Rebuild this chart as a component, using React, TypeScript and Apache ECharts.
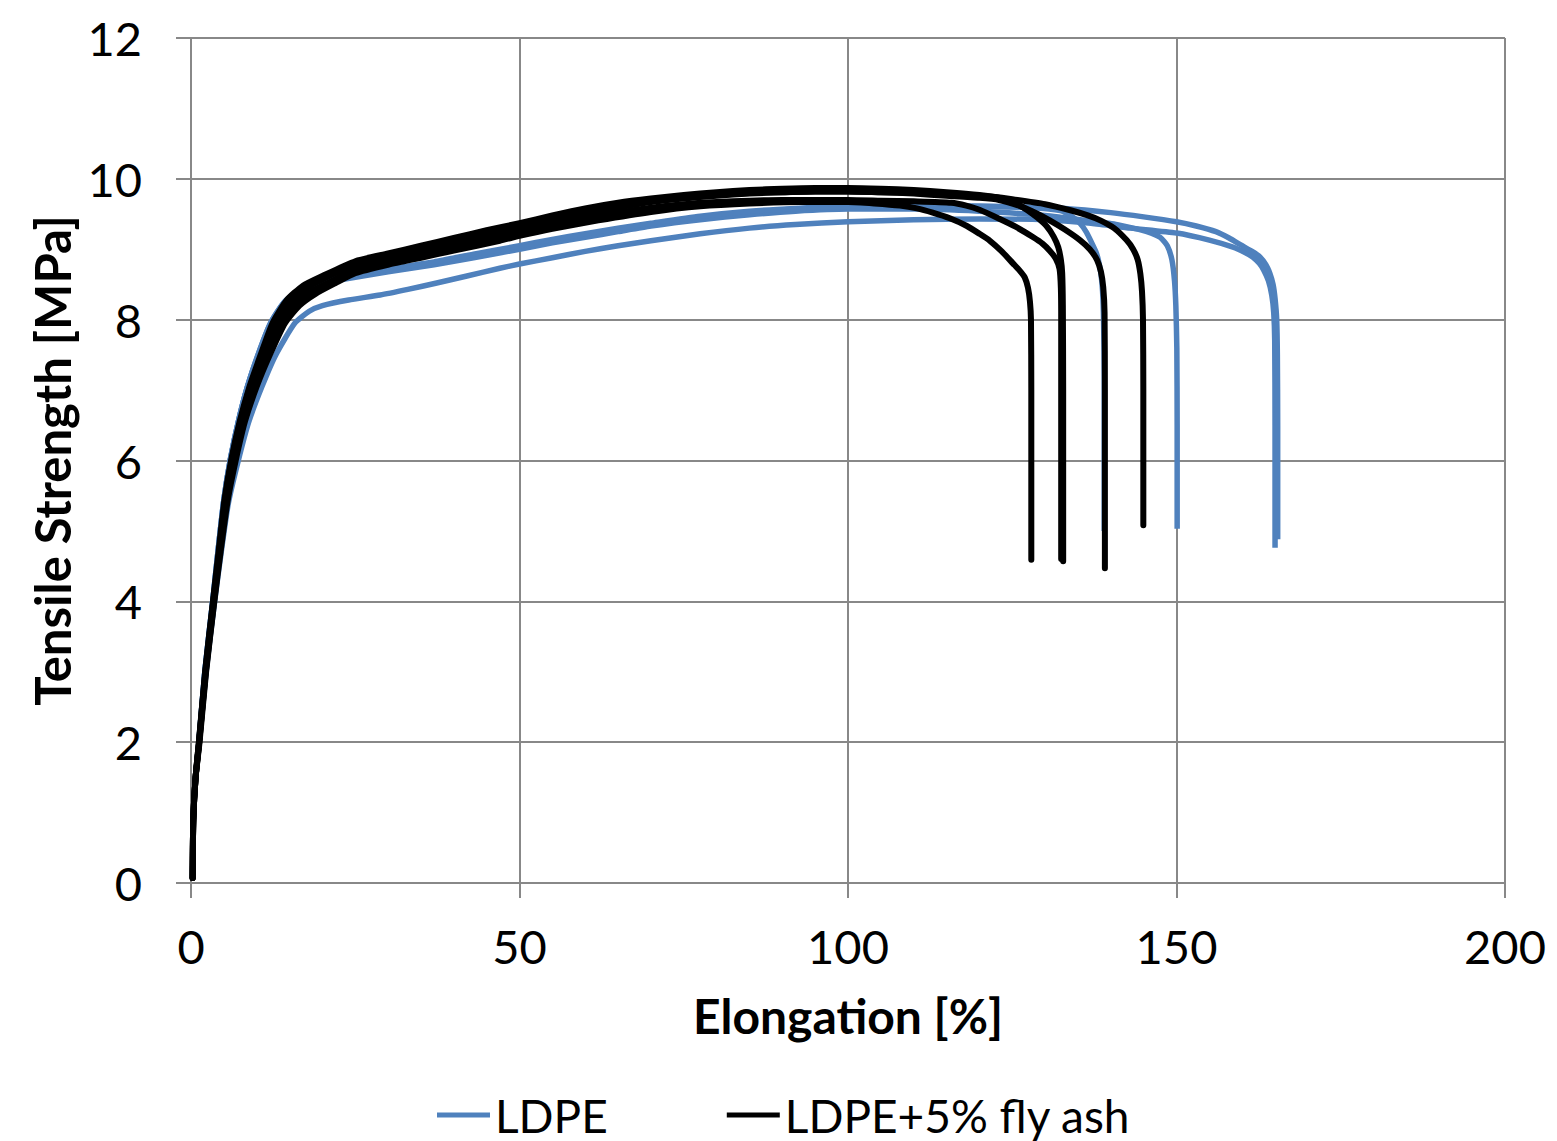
import React, { useEffect, useRef } from "react";
import * as echarts from "echarts";

// ---- Data (Elongation [%], Tensile Strength [MPa]) ----
const LDPE_1: number[][] = [[0.25,0.07],[0.35,0.9],[0.7,1.5],[1.25,2.0],[2.3,3.0],[3.6,4.0],[4.6,4.7],[5.7,5.4],[7.2,6.0],[8.8,6.55],[10.8,7.05],[12.9,7.5],[15.8,7.95],[18,8.12],[20,8.2],[24,8.28],[28.8,8.35],[33,8.43],[37.4,8.52],[42,8.62],[47,8.73],[50,8.79],[55,8.88],[60,8.97],[65,9.05],[70,9.12],[77.5,9.22],[85,9.3],[92,9.35],[100,9.39],[110,9.42],[120,9.43],[130,9.42],[137,9.37],[143,9.3],[150,9.23],[155,9.13],[158.6,9.03],[160.5,8.95],[161.6,8.89],[162.6,8.8],[163.3,8.7],[164,8.55],[164.5,8.35],[164.8,8.1],[164.95,7.7],[165.0,6.5],[165.0,4.76]];
const LDPE_2: number[][] = [[0.25,0.07],[0.35,0.9],[0.7,1.5],[1.2,2.0],[2.1,3.0],[3.3,4.0],[4.1,4.7],[5.0,5.44],[6.0,6.02],[7.2,6.55],[8.6,7.05],[10.2,7.5],[12.1,7.95],[14.2,8.25],[17,8.44],[20,8.53],[25,8.62],[30,8.7],[37,8.8],[43,8.91],[50,9.03],[55,9.12],[60,9.2],[65,9.28],[70,9.35],[77.5,9.45],[85,9.52],[92,9.57],[100,9.6],[110,9.61],[120,9.61],[127,9.6],[133,9.58],[140,9.52],[145,9.46],[150,9.39],[153,9.33],[156,9.25],[158,9.16],[160,9.05],[161.5,8.97],[162.7,8.89],[163.6,8.78],[164.2,8.66],[164.7,8.5],[165,8.3],[165.25,8.0],[165.35,7.5],[165.4,6.5],[165.4,4.88]];
const LDPE_3: number[][] = [[0.25,0.07],[0.35,0.9],[0.7,1.5],[1.2,2.0],[2.1,3.0],[3.3,4.0],[4.1,4.7],[5.0,5.44],[6.0,6.02],[7.2,6.55],[8.6,7.05],[10.3,7.5],[12.2,7.95],[14.4,8.24],[17,8.42],[20,8.51],[25,8.6],[30,8.68],[37,8.78],[43,8.88],[50,9.0],[55,9.09],[60,9.17],[65,9.25],[70,9.33],[77.5,9.42],[85,9.49],[92,9.54],[100,9.57],[110,9.57],[120,9.54],[130,9.48],[137,9.4],[141,9.35],[143.4,9.3],[145.5,9.25],[147.5,9.17],[148.6,9.05],[149.3,8.85],[149.7,8.55],[149.9,8.2],[150.05,7.6],[150.1,6.5],[150.1,5.03]];
const LDPE_4: number[][] = [[0.25,0.07],[0.35,0.9],[0.7,1.5],[1.2,2.0],[2.1,3.0],[3.3,4.0],[4.1,4.7],[5.0,5.44],[6.0,6.02],[7.2,6.55],[8.6,7.05],[10.2,7.5],[12.1,7.95],[14.3,8.26],[17,8.45],[20,8.54],[25,8.63],[30,8.72],[37,8.82],[43,8.93],[50,9.05],[55,9.14],[60,9.22],[65,9.3],[70,9.37],[77.5,9.47],[85,9.54],[92,9.58],[100,9.61],[110,9.62],[120,9.61],[128,9.59],[132.3,9.55],[134,9.47],[135.3,9.37],[136.3,9.24],[137.1,9.09],[137.7,8.97],[138.1,8.85],[138.5,8.65],[138.75,8.4],[138.9,8.0],[139,7.2],[139,5.0]];

const ASH_1: number[][] = [[0.25,0.07],[0.35,0.9],[0.7,1.5],[1.3,2.0],[2.3,3.0],[3.55,4.0],[4.5,4.7],[5.6,5.44],[6.8,6.0],[8.2,6.55],[10.0,7.05],[12,7.5],[14.3,7.95],[16.5,8.2],[19,8.37],[22,8.52],[25,8.66],[30,8.78],[35,8.88],[40,8.98],[47,9.12],[50,9.19],[55,9.29],[62,9.41],[70,9.53],[77.5,9.61],[85,9.65],[92.7,9.67],[100,9.67],[104,9.65],[107.9,9.62],[110.5,9.58],[112.9,9.52],[115.5,9.44],[118.1,9.33],[120,9.22],[121.6,9.12],[123.4,8.97],[125.1,8.8],[126.1,8.7],[126.9,8.6],[127.4,8.45],[127.7,8.25],[127.85,8.0],[127.9,7.0],[127.9,4.59]];
const ASH_2: number[][] = [[0.25,0.07],[0.35,0.9],[0.7,1.5],[1.25,2.0],[2.25,3.0],[3.5,4.0],[4.4,4.7],[5.4,5.44],[6.6,6.0],[7.9,6.55],[9.6,7.05],[11.5,7.5],[13.7,7.95],[16,8.24],[18.5,8.41],[21,8.53],[25,8.71],[30,8.82],[35,8.93],[40,9.03],[45,9.13],[50,9.23],[55,9.33],[60,9.43],[65,9.52],[70,9.59],[75,9.64],[80,9.67],[85,9.69],[90,9.7],[95,9.7],[100,9.7],[105,9.69],[110,9.68],[115.7,9.66],[118,9.62],[120,9.56],[123.1,9.43],[125.5,9.32],[128.2,9.17],[129.6,9.08],[130.7,8.98],[131.6,8.87],[132.2,8.72],[132.4,8.45],[132.45,8.0],[132.45,6.5],[132.45,4.6]];
const ASH_3: number[][] = [[0.25,0.07],[0.35,0.9],[0.7,1.5],[1.2,2.0],[2.2,3.0],[3.4,4.0],[4.25,4.7],[5.15,5.44],[6.2,6.0],[7.5,6.55],[9.0,7.05],[10.8,7.5],[12.7,7.95],[15,8.27],[17.3,8.46],[20,8.6],[25,8.8],[30,8.91],[35,9.01],[40,9.11],[45,9.21],[50,9.31],[55,9.42],[60,9.52],[65,9.61],[70,9.68],[75,9.73],[80,9.77],[85,9.8],[90,9.81],[95,9.82],[100,9.82],[105,9.81],[110,9.8],[115,9.78],[120,9.76],[123.1,9.73],[125.5,9.66],[127.2,9.56],[128.8,9.45],[130.3,9.32],[131.3,9.18],[132,9.03],[132.4,8.85],[132.6,8.66],[132.7,8.2],[132.75,7.0],[132.75,4.57]];
const ASH_4: number[][] = [[0.25,0.07],[0.35,0.9],[0.7,1.5],[1.25,2.0],[2.2,3.0],[3.4,4.0],[4.3,4.7],[5.2,5.44],[6.3,6.0],[7.6,6.55],[9.2,7.05],[11,7.5],[13,7.95],[15.3,8.26],[17.5,8.44],[20,8.57],[25,8.78],[30,8.89],[35,8.99],[40,9.09],[45,9.19],[50,9.29],[55,9.4],[60,9.5],[65,9.59],[70,9.67],[75,9.72],[80,9.76],[85,9.79],[90,9.81],[95,9.82],[100,9.82],[105,9.81],[110,9.79],[115,9.76],[120,9.73],[123,9.7],[126,9.62],[128.5,9.52],[130.7,9.41],[133,9.28],[135.3,9.13],[136.8,9.0],[137.9,8.85],[138.5,8.68],[138.85,8.46],[139.05,8.1],[139.1,7.0],[139.1,4.47]];
const ASH_5: number[][] = [[0.25,0.07],[0.35,0.9],[0.7,1.5],[1.2,2.0],[2.15,3.0],[3.35,4.0],[4.2,4.7],[5.1,5.44],[6.1,6.0],[7.4,6.55],[8.9,7.05],[10.6,7.5],[12.4,7.95],[14.6,8.28],[17,8.48],[20,8.62],[25,8.83],[30,8.94],[35,9.05],[40,9.16],[45,9.27],[50,9.37],[55,9.48],[60,9.58],[65,9.66],[70,9.72],[75,9.77],[80,9.81],[85,9.84],[90,9.86],[95,9.87],[100,9.87],[105,9.86],[110,9.84],[115,9.81],[120,9.77],[125,9.71],[130,9.64],[134,9.55],[136.5,9.48],[138.4,9.41],[140.5,9.3],[142.4,9.13],[143.4,9.0],[144.1,8.85],[144.5,8.65],[144.75,8.4],[144.9,8.0],[144.95,7.0],[144.95,5.08]];

const LDPE_CURVES = [LDPE_1, LDPE_2, LDPE_3, LDPE_4];
const ASH_CURVES = [ASH_1, ASH_2, ASH_3, ASH_4, ASH_5];

const NAME_LDPE = "LDPE";
const NAME_ASH = "LDPE+5% fly ash";
const X_NAME = "Elongation [%]";
const Y_NAME = "Tensile Strength [MPa]";

const BLUE = "#4F81BD";
const BLACK = "#000000";
const GRID = "#888888";
const FONT = "Lato, 'Open Sans', sans-serif";

export default function App() {
  const ref = useRef<HTMLDivElement>(null);
  useEffect(() => {
    if (!ref.current) return;
    const chart = echarts.init(ref.current, null, { renderer: "svg" });
    const series: any[] = [];
    LDPE_CURVES.forEach((d) => {
      series.push({
        name: NAME_LDPE,
        type: "line",
        data: d,
        showSymbol: false,
        symbol: "none",
        smooth: 0.2,
        color: BLUE,
        lineStyle: { color: BLUE, width: 5.5, cap: "butt", join: "round" },
        z: 2,
      });
    });
    ASH_CURVES.forEach((d) => {
      series.push({
        name: NAME_ASH,
        type: "line",
        data: d,
        showSymbol: false,
        symbol: "none",
        smooth: 0.2,
        color: BLACK,
        lineStyle: { color: BLACK, width: 6, cap: "round", join: "round" },
        z: 3,
      });
    });
    chart.setOption({
      animation: false,
      backgroundColor: "#ffffff",
      grid: { left: 191, right: 52, top: 38, bottom: 258, containLabel: false },
      xAxis: {
        type: "value",
        min: 0,
        max: 200,
        interval: 50,
        name: X_NAME,
        nameLocation: "middle",
        nameGap: 108,
        nameTextStyle: { fontFamily: FONT, fontSize: 48, fontWeight: "bold", color: "#000" },
        axisLine: { show: true, lineStyle: { color: GRID, width: 2 } },
        axisTick: { show: true, length: 15, lineStyle: { color: GRID, width: 2 } },
        axisLabel: { fontFamily: FONT, fontSize: 47, color: "#000", margin: 39 },
        splitLine: { show: true, lineStyle: { color: GRID, width: 2 } },
      },
      yAxis: {
        type: "value",
        min: 0,
        max: 12,
        interval: 2,
        name: Y_NAME,
        nameLocation: "middle",
        nameGap: 111,
        nameRotate: 90,
        nameTextStyle: { fontFamily: FONT, fontSize: 49, fontWeight: "bold", color: "#000" },
        axisLine: { show: true, lineStyle: { color: GRID, width: 2 } },
        axisTick: { show: true, length: 15, lineStyle: { color: GRID, width: 2 } },
        axisLabel: { fontFamily: FONT, fontSize: 47, color: "#000", margin: 49 },
        splitLine: { show: true, lineStyle: { color: GRID, width: 2 } },
      },
      legend: {
        data: [
          { name: NAME_LDPE, icon: "rect" },
          { name: NAME_ASH, icon: "rect" },
        ],
        left: 432,
        top: 1087,
        itemWidth: 53,
        itemHeight: 5,
        itemGap: 119,
        textStyle: { fontFamily: FONT, fontSize: 46, color: "#000" },
        selectedMode: false,
      },
      series,
    });
    return () => chart.dispose();
  }, []);
  return (
    <div
      ref={ref}
      style={{ position: "fixed", left: 0, top: 0, width: 1557, height: 1141, background: "#fff" }}
    />
  );
}
